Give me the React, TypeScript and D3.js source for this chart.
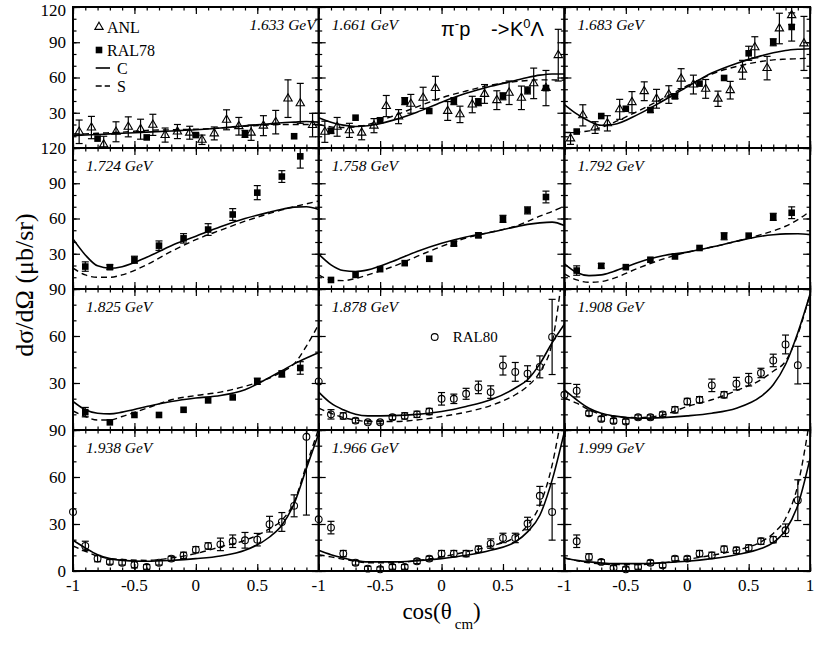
import React, { useEffect, useRef } from 'react'
import * as d3 from 'd3'

// [cos(theta), dsigma/dOmega, error]
type Pt = [number, number, number]

const energies = ['1.633', '1.661', '1.683', '1.724', '1.758', '1.792', '1.825', '1.878', '1.908', '1.938', '1.966', '1.999']
const rowMax = [120, 120, 90, 90]

// model curves, sampled on this cos grid
const cosGrid = [-1, -0.9, -0.8, -0.7, -0.6, -0.4, -0.2, 0, 0.2, 0.4, 0.6, 0.7, 0.8, 0.9, 1]

const curveC: number[][] = [
    [10.5, 11, 11.5, 12, 12.5, 13.5, 14.5, 15.5, 17, 19, 20.5, 21.5, 22, 22.5, 22],
    [25.8, 22, 19.5, 18.3, 19, 23.5, 30.5, 39, 46.5, 52.5, 57.5, 60, 62, 63, 63],
    [37, 29, 23, 19.4, 20, 28.6, 40, 52, 63.8, 72, 78.4, 81, 83, 84, 84.5],
    [42.6, 29, 19.7, 17.7, 19, 27, 36.9, 44.9, 52.9, 60, 65.4, 67.8, 69.7, 70, 67.7],
    [29.7, 20.6, 15.7, 14.9, 16.3, 23.4, 32, 39, 44.3, 48.3, 52.9, 55, 56.3, 56.9, 54],
    [21.4, 14, 11.4, 12, 14.9, 22.6, 28.3, 31.4, 35.7, 40.6, 44.9, 46.2, 46.9, 47, 46.3],
    [18.2, 12.9, 10.7, 10.3, 11.4, 15, 18.2, 20.4, 22, 25.7, 33.6, 37.8, 42.2, 46, 49.3],
    [24.2, 17.1, 12.9, 10, 9, 9.2, 10, 11.8, 15, 19.3, 26.8, 32.1, 42.2, 55.7, 67.5],
    [25.7, 19.3, 13.9, 10.7, 9, 7.5, 7.9, 9, 10.7, 13.9, 21.4, 28.9, 41.8, 62.1, 86.8],
    [19.6, 14.7, 10.4, 7.9, 6.8, 6.2, 6.8, 7.9, 9.6, 13.2, 21.7, 29.2, 43, 65.5, 87.8],
    [13.2, 10.4, 8.3, 6.6, 5.8, 5.8, 6.6, 7.9, 10, 13.2, 18.6, 25, 35.6, 58, 89],
    [8.3, 6.8, 5.8, 5.1, 4.7, 4.7, 5.3, 6.2, 7.9, 10.4, 14.3, 18.1, 26, 42, 71.9],
]

const curveS: number[][] = [
    [12, 12, 12.5, 13, 13.5, 15, 15.5, 16, 17, 18.5, 19.5, 20, 20, 20, 20],
    [20, 18, 17.4, 18, 20, 27, 35, 42.7, 48.5, 53.5, 56.5, 57.5, 58, 58, 57.6],
    [13.2, 13.5, 14.6, 17.5, 21.6, 31.5, 42, 53, 63, 69.4, 73.6, 75, 75.6, 76, 76.4],
    [17.7, 12, 10, 10, 12, 20.6, 32, 42, 50, 57.7, 64.3, 67.3, 70, 72.5, 74.9],
    [12, 7.7, 7.1, 9, 12, 19, 27.7, 36.3, 43.4, 48.3, 53.4, 57.5, 62, 66, 70.6],
    [12.9, 7.7, 5.7, 6.3, 9.1, 17.7, 25.4, 31.4, 35.7, 40.6, 46.3, 49.5, 53.4, 59, 66.3],
    [12.2, 8.6, 6.4, 6.4, 8.6, 13.9, 19.3, 22, 24.2, 27.9, 33.2, 37, 42.2, 53.6, 67.5],
    [13.9, 10.7, 7.9, 6.4, 5.4, 5.4, 6.4, 8.6, 11.4, 15.6, 22.5, 27.9, 37.1, 55.7, 110],
    [20.4, 17.1, 12.9, 10, 8.6, 7.9, 9.6, 15, 19.3, 25.1, 32.1, 37.5, 43.9, 61, 86.8],
    [16, 12.6, 9.6, 7.9, 7.3, 6.8, 8.3, 11.1, 15.4, 19.6, 27, 32.4, 44.1, 67.6, 91],
    [10.4, 9, 7.5, 6.2, 5.3, 5.3, 6.6, 9, 12.2, 16, 21.7, 29.2, 42, 67.6, 110],
    [8.3, 6.6, 5.3, 4.5, 4.1, 4.1, 5.3, 7.5, 10, 13.2, 18.6, 24, 33.5, 54.8, 98],
]

// ANL (open triangles)
const anl1633: Pt[] = [
    [-0.95, 13.8, 10], [-0.85, 17.4, 9.5], [-0.75, 3, 7], [-0.65, 13.8, 8.5], [-0.55, 18, 8.5],
    [-0.45, 16, 8.5], [-0.35, 19.7, 9], [-0.25, 11, 6], [-0.15, 14, 6], [-0.05, 13, 5.5],
    [0.05, 7, 4], [0.15, 12.4, 5.5], [0.25, 24, 8.5], [0.35, 18.5, 7.5], [0.45, 13, 6.5],
    [0.55, 19, 8.5], [0.65, 22, 10], [0.75, 42, 16], [0.85, 38, 17], [0.95, 19.5, 10],
]
const anl1661: Pt[] = [
    [-0.95, 13.8, 9], [-0.85, 18, 8], [-0.75, 15, 6], [-0.65, 13, 6], [-0.55, 19, 6],
    [-0.45, 35.7, 9], [-0.35, 26.7, 6], [-0.25, 37.6, 8], [-0.15, 42.7, 9], [-0.05, 51, 10],
    [0.05, 31.5, 8], [0.15, 28.6, 7], [0.25, 37, 7], [0.35, 46, 8], [0.45, 40.7, 8],
    [0.55, 47, 10], [0.65, 42.7, 10], [0.75, 55, 13], [0.85, 51, 15], [0.95, 79, 22],
]
const anl1683: Pt[] = [
    [-0.95, 8.1, 5], [-0.85, 27.8, 9], [-0.75, 17.4, 5], [-0.65, 21, 6.5], [-0.55, 32.9, 8.5],
    [-0.45, 39, 9], [-0.35, 48.3, 8], [-0.25, 41.9, 8], [-0.15, 45.5, 7.5], [-0.05, 59, 8.5],
    [0.05, 54, 8], [0.15, 50.3, 8], [0.25, 41.9, 6.5], [0.35, 49.2, 7.5], [0.45, 66.6, 8],
    [0.55, 85.7, 9], [0.65, 68, 10], [0.75, 101.7, 13], [0.85, 113, 8], [0.95, 89, 23],
]

// RAL78 (filled squares)
const ral78_1633: Pt[] = [[-0.8, 8, 0], [-0.4, 9, 0], [0, 11, 1.5], [0.4, 12, 3], [0.8, 10, 0]]
const ral78_1661: Pt[] = [
    [-0.9, 14.6, 2], [-0.7, 25.8, 0], [-0.5, 23.6, 2], [-0.3, 39.9, 3], [-0.1, 31.5, 0],
    [0.1, 39.9, 3], [0.3, 39, 3], [0.5, 44, 3], [0.7, 49, 3], [0.85, 51, 0],
]
const ral78_1683: Pt[] = [
    [-0.9, 14, 0], [-0.7, 27.2, 0], [-0.5, 33.4, 0], [-0.3, 32.3, 2], [-0.1, 44, 2],
    [0.1, 54.8, 0], [0.3, 59.6, 0], [0.5, 80.6, 6], [0.7, 90, 3], [0.85, 103, 12],
]
const ral78_1724: Pt[] = [
    [-0.9, 19.1, 4], [-0.7, 18.6, 2], [-0.5, 24.9, 3], [-0.3, 36.9, 4], [-0.1, 43.1, 4],
    [0.1, 50.6, 5], [0.3, 63.4, 5], [0.5, 82, 6], [0.7, 95.7, 5], [0.85, 112.9, 10],
]
const ral78_1758: Pt[] = [
    [-0.9, 7.7, 0], [-0.7, 12, 0], [-0.5, 16.9, 0], [-0.3, 22, 0], [-0.1, 25.7, 0],
    [0.1, 38.6, 2], [0.3, 45.7, 2], [0.5, 59.7, 3], [0.7, 66.9, 3], [0.85, 78.3, 5],
]
const ral78_1792: Pt[] = [
    [-0.9, 15.7, 4], [-0.7, 19.7, 2], [-0.5, 18.6, 0], [-0.3, 24.9, 0], [-0.1, 27.7, 0],
    [0.1, 34.9, 0], [0.3, 44.9, 3], [0.5, 45.4, 0], [0.7, 61.4, 3], [0.85, 64.9, 5],
]
const ral78_1825: Pt[] = [
    [-0.9, 11.4, 3], [-0.7, 4.9, 0], [-0.5, 9.6, 0], [-0.3, 9.6, 0], [-0.1, 12.9, 0],
    [0.1, 18.9, 0], [0.3, 20.8, 0], [0.5, 31.1, 2], [0.7, 35.8, 2], [0.85, 39.6, 4],
]

// RAL80 (open circles)
const ral80_1878: Pt[] = [
    [-1, 31, 0], [-0.9, 10, 3], [-0.8, 9, 2], [-0.7, 6, 1.5], [-0.6, 4.9, 1], [-0.5, 4.9, 1],
    [-0.4, 8.1, 1.5], [-0.3, 9, 2], [-0.2, 10, 2], [-0.1, 11.8, 2], [0, 19.9, 4], [0.1, 19.9, 3],
    [0.2, 23.1, 3.5], [0.3, 27.2, 4], [0.4, 24.2, 4], [0.5, 41.1, 6], [0.6, 37.1, 6], [0.7, 36, 5],
    [0.8, 40.3, 7], [0.9, 59.4, 24],
]
const ral80_1908: Pt[] = [
    [-1, 22.5, 0], [-0.9, 25.1, 4], [-0.8, 10.7, 1.5], [-0.7, 7.1, 1.5], [-0.6, 5.8, 1.5],
    [-0.5, 5.4, 1.5], [-0.4, 8.1, 1.5], [-0.3, 8.1, 1.5], [-0.2, 10, 1.5], [-0.1, 12.9, 2],
    [0, 18.2, 2], [0.1, 19.3, 2], [0.2, 28.5, 4], [0.3, 22.5, 2], [0.4, 29.6, 4], [0.5, 32.1, 4],
    [0.6, 36.4, 3], [0.7, 44.4, 4], [0.8, 54.6, 6], [0.9, 41.4, 12],
]
const ral80_1938: Pt[] = [
    [-1, 37.7, 0], [-0.9, 16, 3], [-0.8, 7.9, 2], [-0.7, 5.8, 1.5], [-0.6, 5.3, 1.5], [-0.5, 4, 2],
    [-0.4, 2.6, 1.5], [-0.3, 5.3, 1.5], [-0.2, 7.9, 1.5], [-0.1, 10, 2], [0, 13.6, 2], [0.1, 16, 2],
    [0.2, 17, 4], [0.3, 19, 4], [0.4, 19.6, 5], [0.5, 20, 4], [0.6, 29.9, 5], [0.7, 31.3, 6],
    [0.8, 41.6, 7], [0.9, 85.7, 50],
]
const ral80_1966: Pt[] = [
    [-1, 33, 0], [-0.9, 27.7, 4], [-0.8, 11.1, 2], [-0.7, 5.3, 1.5], [-0.6, 1.5, 1.5], [-0.5, 1.1, 1.5],
    [-0.4, 2.6, 1.5], [-0.3, 2.6, 1.5], [-0.2, 6.2, 1.5], [-0.1, 7.9, 1.5], [0, 11.1, 2], [0.1, 11.1, 2],
    [0.2, 11.1, 2], [0.3, 13.9, 2], [0.4, 17.5, 3], [0.5, 21.1, 3], [0.6, 21.1, 3], [0.7, 30.3, 4],
    [0.8, 48, 6], [0.9, 37.7, 18],
]
const ral80_1999: Pt[] = [
    [-0.9, 19, 4], [-0.8, 9, 2], [-0.7, 5.8, 1.5], [-0.6, 1.9, 1.5], [-0.5, 1.1, 1.5], [-0.4, 2.6, 1.5],
    [-0.3, 5.3, 1.5], [-0.2, 3.6, 1.5], [-0.1, 7.9, 1.5], [0, 7.9, 1.5], [0.1, 11.1, 2], [0.2, 10, 2],
    [0.3, 13.9, 2], [0.4, 13.2, 2], [0.5, 14.7, 2], [0.6, 19, 2], [0.7, 20, 2], [0.8, 26, 4],
    [0.9, 45.2, 13],
]

const anlSets: (Pt[] | null)[] = [anl1633, anl1661, anl1683, null, null, null, null, null, null, null, null, null]
const ral78Sets: (Pt[] | null)[] = [ral78_1633, ral78_1661, ral78_1683, ral78_1724, ral78_1758, ral78_1792, ral78_1825, null, null, null, null, null]
const ral80Sets: (Pt[] | null)[] = [null, null, null, null, null, null, null, ral80_1878, ral80_1908, ral80_1938, ral80_1966, ral80_1999]

const W = 817
const H = 650
const left = 73
const top = 7
const PW = 245.7
const PH = 141
const serif = 'Liberation Serif'
const sans = 'Liberation Sans'

export default function App() {
    const svgRef = useRef<SVGSVGElement | null>(null)

    const xScale = d3.scaleLinear().domain([-1, 1]).range([0, PW])
    const xMajor = [-1, -0.5, 0, 0.5, 1]
    const rowScale = (row: number) => d3.scaleLinear().domain([0, rowMax[row]]).range([PH, 0])

    useEffect(() => {
        const svg = d3.select(svgRef.current).select<SVGGElement>('g.marks')
        svg.selectAll('*').remove()
        const defs = svg.append('defs')
        const xMinor = d3.range(-10, 11).map((k) => k / 10)

        energies.forEach((_, i) => {
            const col = i % 3
            const row = Math.floor(i / 3)
            const yMax = rowMax[row]
            const yScale = rowScale(row)
            const g = svg.append('g').attr('transform', `translate(${left + col * PW},${top + row * PH})`)

            defs.append('clipPath').attr('id', `clip${i}`).append('rect').attr('width', PW).attr('height', PH)

            // model curves
            const line = d3
                .line<number>()
                .x((_, k) => xScale(cosGrid[k]))
                .y((d) => yScale(d))
                .curve(d3.curveMonotoneX)
            const cg = g.append('g').attr('clip-path', `url(#clip${i})`)
            cg.append('path')
                .attr('d', line(curveC[i]))
                .attr('fill', 'none')
                .attr('stroke', '#000')
                .attr('stroke-width', 1.6)
            cg.append('path')
                .attr('d', line(curveS[i]))
                .attr('fill', 'none')
                .attr('stroke', '#000')
                .attr('stroke-width', 1.4)
                .attr('stroke-dasharray', '6,4')

            // error bars, clamped to the panel
            const errorBars = (pts: Pt[]) => {
                pts.filter((p) => p[2] > 0).forEach(([c, v, e]) => {
                    const hi = Math.min(v + e, yMax)
                    const lo = Math.max(v - e, 0)
                    const x = xScale(c)
                    g.append('line').attr('x1', x).attr('x2', x).attr('y1', yScale(hi)).attr('y2', yScale(lo))
                        .attr('stroke', '#000').attr('stroke-width', 1.2)
                    if (v + e <= yMax)
                        g.append('line').attr('x1', x - 3.5).attr('x2', x + 3.5).attr('y1', yScale(hi)).attr('y2', yScale(hi))
                            .attr('stroke', '#000').attr('stroke-width', 1.2)
                    if (v - e >= 0)
                        g.append('line').attr('x1', x - 3.5).attr('x2', x + 3.5).attr('y1', yScale(lo)).attr('y2', yScale(lo))
                            .attr('stroke', '#000').attr('stroke-width', 1.2)
                })
            }

            const anl = anlSets[i]
            if (anl) {
                errorBars(anl)
                g.selectAll(null)
                    .data(anl)
                    .join('path')
                    .attr('d', d3.symbol(d3.symbolTriangle, 30)())
                    .attr('transform', (d) => `translate(${xScale(d[0])},${yScale(d[1])})`)
                    .attr('fill', 'none')
                    .attr('stroke', '#000')
                    .attr('stroke-width', 1.1)
            }
            const r78 = ral78Sets[i]
            if (r78) {
                errorBars(r78)
                g.selectAll(null)
                    .data(r78)
                    .join('rect')
                    .attr('x', (d) => xScale(d[0]) - 3.3)
                    .attr('y', (d) => yScale(d[1]) - 3.3)
                    .attr('width', 6.6)
                    .attr('height', 6.6)
                    .attr('fill', '#000')
            }
            const r80 = ral80Sets[i]
            if (r80) {
                errorBars(r80)
                g.selectAll(null)
                    .data(r80)
                    .join('circle')
                    .attr('cx', (d) => xScale(d[0]))
                    .attr('cy', (d) => yScale(d[1]))
                    .attr('r', 3.4)
                    .attr('fill', 'none')
                    .attr('stroke', '#000')
                    .attr('stroke-width', 1.1)
            }

            // inward ticks on all four sides
            const yMinor = d3.range(0, yMax + 1, 10)
            const yMajor = d3.range(0, yMax + 1, 30)
            const tickAxis = (axis: d3.Axis<d3.NumberValue>, vals: number[], len: number, tr: string) => {
                g.append('g')
                    .attr('transform', tr)
                    .call(axis.tickValues(vals).tickSizeInner(-len).tickSizeOuter(0).tickFormat(() => ''))
                    .call((a) => a.select('.domain').remove())
                    .call((a) => a.selectAll('line').attr('stroke-width', 1.2))
            }
            tickAxis(d3.axisBottom(xScale), xMinor, 3.5, `translate(0,${PH})`)
            tickAxis(d3.axisBottom(xScale), xMajor, 7, `translate(0,${PH})`)
            tickAxis(d3.axisTop(xScale), xMinor, 3.5, 'translate(0,0)')
            tickAxis(d3.axisTop(xScale), xMajor, 7, 'translate(0,0)')
            tickAxis(d3.axisLeft(yScale), yMinor, 3.5, 'translate(0,0)')
            tickAxis(d3.axisLeft(yScale), yMajor, 7, 'translate(0,0)')
            tickAxis(d3.axisRight(yScale), yMinor, 3.5, `translate(${PW},0)`)
            tickAxis(d3.axisRight(yScale), yMajor, 7, `translate(${PW},0)`)

            g.append('rect').attr('width', PW).attr('height', PH).attr('fill', 'none').attr('stroke', '#000').attr('stroke-width', 2)

            // legend symbols
            if (i === 0) {
                g.append('path').attr('d', d3.symbol(d3.symbolTriangle, 30)()).attr('transform', 'translate(26,20)')
                    .attr('fill', 'none').attr('stroke', '#000').attr('stroke-width', 1.1)
                g.append('rect').attr('x', 22.7).attr('y', 39.7).attr('width', 6.6).attr('height', 6.6).attr('fill', '#000')
                g.append('line').attr('x1', 22.7).attr('x2', 37).attr('y1', 61).attr('y2', 61).attr('stroke', '#000').attr('stroke-width', 1.6)
                g.append('line').attr('x1', 22.7).attr('x2', 37).attr('y1', 79).attr('y2', 79).attr('stroke', '#000')
                    .attr('stroke-width', 1.4).attr('stroke-dasharray', '6,3')
            }
            if (i === 7) {
                g.append('circle').attr('cx', 116).attr('cy', 48).attr('r', 3.4).attr('fill', 'none').attr('stroke', '#000').attr('stroke-width', 1.1)
            }
        })
    }, [])

    // texts are rendered as JSX with the same scales
    const yLabels: { y: number; v: number }[] = []
    rowMax.forEach((m, row) => {
        const ys = rowScale(row)
        const vals = d3.range(30, m + 1, 30)
        if (row === 3) vals.unshift(0)
        vals.forEach((v) => yLabels.push({ v, y: Math.max(top + row * PH + ys(v), 10) }))
    })
    const xLabels: { x: number; v: number }[] = []
    ;[0, 1, 2].forEach((col) => {
        const vals = col === 2 ? xMajor : xMajor.slice(0, 4)
        vals.forEach((v) => xLabels.push({ v, x: left + col * PW + xScale(v) }))
    })

    return (
        <svg
            ref={svgRef}
            width={W}
            height={H}
            style={{ position: 'absolute', left: 0, top: 0, background: '#fff', fontFamily: serif }}
        >
            <g className="marks" />
            {energies.map((e, i) => (
                <text
                    key={e}
                    x={left + (i % 3) * PW + (i === 0 ? PW - 3 : 13)}
                    y={top + Math.floor(i / 3) * PH + 22.5}
                    textAnchor={i === 0 ? 'end' : 'start'}
                    style={{ fontFamily: serif, fontStyle: 'italic', fontSize: '15.5px' }}
                >
                    {e} GeV
                </text>
            ))}
            {yLabels.map((d, k) => (
                <text key={`y${k}`} x={left - 7} y={d.y} dy="0.35em" textAnchor="end" style={{ fontFamily: serif, fontSize: '17px' }}>
                    {String(d.v)}
                </text>
            ))}
            {xLabels.map((d, k) => (
                <text key={`x${k}`} x={d.x} y={591} textAnchor="middle" style={{ fontFamily: serif, fontSize: '17px' }}>
                    {String(d.v)}
                </text>
            ))}
            <g style={{ fontFamily: serif, fontSize: '16px' }}>
                <text x={left + 34} y={top + 20} dy="0.35em">ANL</text>
                <text x={left + 34} y={top + 43} dy="0.35em">RAL78</text>
                <text x={left + 44} y={top + 61} dy="0.35em">C</text>
                <text x={left + 44} y={top + 79} dy="0.35em">S</text>
            </g>
            <text x={left + PW + 134} y={top + 2 * PH + 48} dy="0.35em" style={{ fontFamily: serif, fontSize: '15px' }}>
                RAL80
            </text>
            <text x={441} y={36} style={{ fontFamily: sans, fontSize: '20px' }}>
                <tspan>π</tspan>
                <tspan dy={-8} style={{ fontSize: '13px' }}>-</tspan>
                <tspan dy={8}>p</tspan>
                <tspan x={491}>-&gt;</tspan>
                <tspan x={510}>K</tspan>
                <tspan dy={-8} style={{ fontSize: '13px' }}>0</tspan>
                <tspan dy={8}>Λ</tspan>
            </text>
            <text x={left + 1.5 * PW} y={619} textAnchor="middle" style={{ fontFamily: serif, fontSize: '23px' }}>
                <tspan>cos(θ</tspan>
                <tspan dx={3} dy={10} style={{ fontSize: '15px' }}>cm</tspan>
                <tspan dy={-10}>)</tspan>
            </text>
            <text
                transform={`translate(33,${top + 2 * PH - 4}) rotate(-90)`}
                textAnchor="middle"
                style={{ fontFamily: serif, fontSize: '26px' }}
            >
                dσ/dΩ (μb/sr)
            </text>
        </svg>
    )
}
